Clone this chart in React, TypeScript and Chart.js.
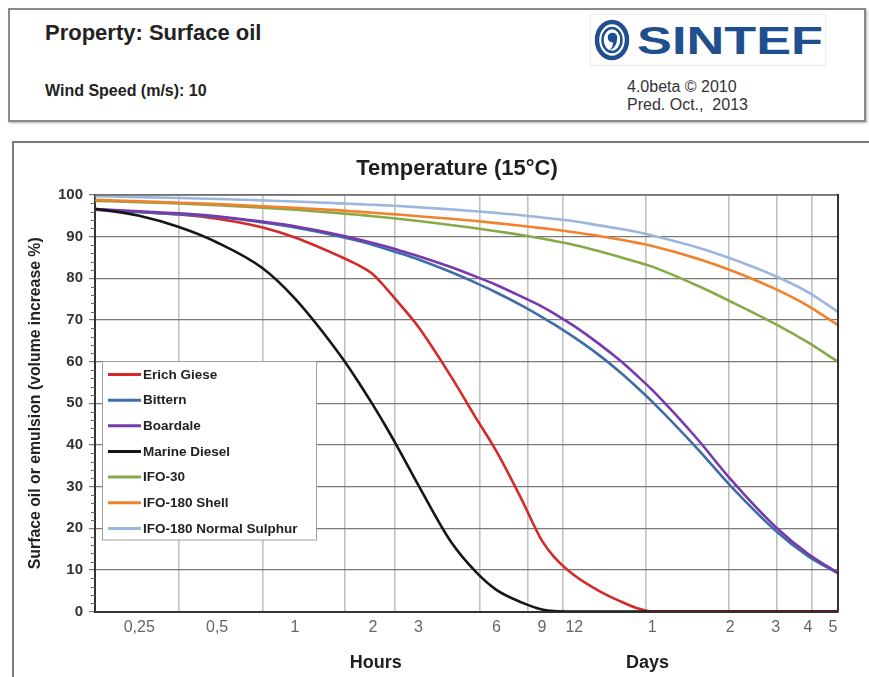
import React, { useEffect, useRef } from 'react';
import { Chart, registerables } from 'chart.js';

Chart.register(...registerables);

const FONT = '"Liberation Sans", Arial, Helvetica, sans-serif';

// x values in hours (log axis)
const HOURS = [0.169, 0.25, 0.356, 0.5, 0.75, 1, 1.5, 1.75, 2, 2.25, 2.5, 3, 4, 5, 6, 7.5, 9, 10, 12, 15, 18, 21, 24, 36, 48, 72, 96, 125];

const ERICH_GIESE = [96.5, 95.9, 95.3, 94.3, 92.2, 89.8, 85.2, 83.2, 81.0, 77.6, 74.3, 68.3, 56.5, 46.5, 38.5, 27.0, 17.0, 13.2, 8.7, 4.9, 2.5, 0.8, 0, 0, 0, 0, 0, 0];
const BITTERN = [96.5, 95.9, 95.4, 94.7, 93.4, 92.2, 90.0, 89.0, 88.0, 87.05, 86.15, 84.5, 81.5, 78.9, 76.6, 73.5, 70.7, 69.0, 65.8, 61.5, 57.5, 53.8, 50.4, 39.0, 30.3, 19.4, 13.3, 9.2];
const BOARDALE = [96.6, 96.1, 95.6, 94.9, 93.6, 92.5, 90.35, 89.4, 88.5, 87.65, 86.8, 85.3, 82.7, 80.4, 78.4, 75.6, 73.2, 71.6, 68.5, 64.2, 60.3, 56.6, 53.2, 41.3, 31.9, 20.3, 13.85, 9.3];
const MARINE_DIESEL = [96.7, 95.0, 92.3, 88.6, 82.4, 75.1, 61.4, 55.3, 49.6, 44.3, 39.3, 30.3, 16.8, 9.5, 5.2, 2.2, 0.5, 0.1, 0, 0, 0, 0, 0, 0, 0, 0, 0, 0];
const IFO_30 = [98.6, 98.3, 97.95, 97.55, 96.95, 96.45, 95.6, 95.25, 94.9, 94.6, 94.3, 93.75, 92.8, 92.0, 91.3, 90.4, 89.55, 89.0, 88.0, 86.5, 85.1, 83.9, 82.8, 78.2, 74.5, 69.0, 64.6, 60.0];
const IFO_180_SHELL = [98.85, 98.5, 98.15, 97.8, 97.3, 96.9, 96.3, 96.0, 95.75, 95.5, 95.3, 94.9, 94.3, 93.75, 93.25, 92.6, 92.05, 91.7, 91.05, 90.15, 89.3, 88.5, 87.75, 84.7, 82.0, 77.4, 73.4, 68.8];
const IFO_180_NS = [99.7, 99.5, 99.28, 99.04, 98.7, 98.45, 98.0, 97.8, 97.65, 97.5, 97.35, 97.05, 96.55, 96.1, 95.7, 95.15, 94.6, 94.3, 93.7, 92.7, 91.9, 91.1, 90.3, 87.4, 84.8, 80.5, 76.7, 72.0];

const SERIES_NAMES = ['Erich Giese', 'Bittern', 'Boardale', 'Marine Diesel', 'IFO-30', 'IFO-180 Shell', 'IFO-180 Normal Sulphur'];
const SERIES_VALUES = [ERICH_GIESE, BITTERN, BOARDALE, MARINE_DIESEL, IFO_30, IFO_180_SHELL, IFO_180_NS];
const SERIES_COLORS = ['#d42a2a', '#3f6ea6', '#7838b0', '#161616', '#86aa48', '#f0822c', '#9db7dc'];

const TICK_HOURS = [0.25, 0.5, 1, 2, 3, 6, 9, 12, 24, 48, 72, 96, 120];
const TICK_LABELS = ['0,25', '0,5', '1', '2', '3', '6', '9', '12', '1', '2', '3', '4', '5'];
const GRID_HOURS = [0.356, 0.752, 1.56, 2.43, 5.18, 7.95, 10.8, 22.7, 47.5, 72.8, 99.5];
const X_MIN = 0.1687;
const X_MAX = 125.4;

const Y_MIN = 0;
const Y_MAX = 100;
const Y_STEP = 10;
const Y_MINOR_STEP = 2;

const CHART_TITLE = 'Temperature (15°C)';
const Y_TITLE = 'Surface oil or emulsion (volume increase %)';
const X_TITLES = [
  { text: 'Hours', at: 2.05 },
  { text: 'Days', at: 23 },
];

const decorPlugin = {
  id: 'decor',
  afterDraw(chart: any) {
    const { ctx, chartArea } = chart;
    const { left, right, top, bottom } = chartArea;
    const yScale = chart.scales.y;
    const xScale = chart.scales.x;
    ctx.save();

    // plot frame
    ctx.strokeStyle = '#6e6e6e';
    ctx.lineWidth = 1.5;
    ctx.beginPath();
    ctx.moveTo(left, top);
    ctx.lineTo(right, top);
    ctx.stroke();
    ctx.strokeStyle = '#333';
    ctx.lineWidth = 2;
    ctx.beginPath();
    ctx.moveTo(right, top - 1);
    ctx.lineTo(right, bottom);
    ctx.stroke();

    // minor ticks on y
    ctx.strokeStyle = '#666';
    ctx.lineWidth = 1;
    for (let v = Y_MIN; v <= Y_MAX; v += Y_MINOR_STEP) {
      if (v % Y_STEP === 0) continue;
      const py = Math.round(yScale.getPixelForValue(v)) + 0.5;
      ctx.beginPath();
      ctx.moveTo(left - 4, py);
      ctx.lineTo(left, py);
      ctx.stroke();
    }

    // chart title
    ctx.fillStyle = '#1e1e1e';
    ctx.font = `bold 22px ${FONT}`;
    ctx.textAlign = 'center';
    ctx.textBaseline = 'alphabetic';
    ctx.fillText(CHART_TITLE, 457, 175);

    // Hours / Days
    ctx.font = `bold 18px ${FONT}`;
    X_TITLES.forEach((t) => {
      ctx.fillText(t.text, xScale.getPixelForValue(t.at), 668);
    });

    // legend box
    const lx = 102.5, ly = 361.5, lw = 214, lh = 178.5;
    ctx.fillStyle = '#fff';
    ctx.fillRect(lx, ly, lw, lh);
    ctx.strokeStyle = '#a0a0a0';
    ctx.lineWidth = 1;
    ctx.strokeRect(lx, ly, lw, lh);
    ctx.font = `bold 13.5px ${FONT}`;
    ctx.textAlign = 'left';
    ctx.textBaseline = 'middle';
    SERIES_NAMES.forEach((name, i) => {
      const cy = 374.5 + i * 25.65;
      ctx.strokeStyle = SERIES_COLORS[i];
      ctx.lineWidth = 3;
      ctx.beginPath();
      ctx.moveTo(108, cy);
      ctx.lineTo(141, cy);
      ctx.stroke();
      ctx.fillStyle = '#222';
      ctx.fillText(name, 143, cy + 0.5);
    });

    ctx.restore();
  },
};

export default function App() {
  const ref = useRef<HTMLCanvasElement>(null);

  useEffect(() => {
    if (!ref.current) return;
    Chart.defaults.font.family = FONT;
    const datasets = SERIES_NAMES.map((name, i) => ({
      label: name,
      data: HOURS.map((h, j) => ({ x: h, y: SERIES_VALUES[i][j] })),
      borderColor: SERIES_COLORS[i],
      backgroundColor: SERIES_COLORS[i],
      borderWidth: 2.6,
      pointRadius: 0,
      cubicInterpolationMode: 'monotone' as const,
      fill: false,
      order: SERIES_NAMES.length - i,
    }));
    const allTicks = [...TICK_HOURS, ...GRID_HOURS].sort((a, b) => a - b);

    const chart = new Chart(ref.current, {
      type: 'line',
      data: { datasets },
      options: {
        animation: false,
        responsive: false,
        devicePixelRatio: 1,
        layout: { padding: { left: 24, right: 31, top: 195, bottom: 0 } },
        plugins: {
          legend: { display: false },
          tooltip: { enabled: false },
          title: { display: false },
        },
        scales: {
          x: {
            type: 'logarithmic',
            min: X_MIN,
            max: X_MAX,
            afterBuildTicks: (s: any) => {
              s.ticks = allTicks.map((v) => ({ value: v }));
            },
            afterFit: (s: any) => {
              s.height = 65.5;
            },
            grid: {
              color: (c: any) => (c.tick && GRID_HOURS.includes(c.tick.value) ? '#c2c2c2' : 'rgba(0,0,0,0)'),
              lineWidth: 1.6,
              drawTicks: false,
            },
            border: { color: '#333', width: 2 },
            ticks: {
              autoSkip: false,
              maxRotation: 0,
              minRotation: 0,
              padding: 6,
              color: '#666',
              font: { family: FONT, size: 16 },
              callback: (v: any) => {
                const i = TICK_HOURS.indexOf(Number(v));
                return i >= 0 ? TICK_LABELS[i] : '';
              },
            },
          },
          y: {
            min: Y_MIN,
            max: Y_MAX,
            afterFit: (s: any) => {
              s.width = 71;
            },
            ticks: {
              stepSize: Y_STEP,
              color: '#333',
              padding: 6,
              font: { family: FONT, size: 15, weight: 'bold' },
            },
            grid: { color: '#7a7a7a', lineWidth: 1.2, tickLength: 6 },
            border: { color: '#333', width: 2 },
            title: {
              display: true,
              text: Y_TITLE,
              color: '#222',
              font: { family: FONT, size: 15.8, weight: 'bold' },
              padding: { top: 2, bottom: 0 },
            },
          },
        },
      } as any,
      plugins: [decorPlugin],
    });
    return () => chart.destroy();
  }, []);

  return (
    <div style={{ position: 'fixed', left: 0, top: 0, width: 869, height: 677, background: '#fff', overflow: 'hidden', fontFamily: FONT }}>
      <div style={{ position: 'absolute', left: 8, top: 8, width: 858, height: 114, border: '2px solid #8a8a8a', boxSizing: 'border-box', boxShadow: '1px 1px 2px #b0b0b0' }} />
      <div style={{ position: 'absolute', left: 45, top: 21, fontSize: 22, lineHeight: '24px', fontWeight: 'bold', color: '#222', whiteSpace: 'nowrap' }}>Property: Surface oil</div>
      <div style={{ position: 'absolute', left: 45, top: 82, fontSize: 16, lineHeight: '18px', fontWeight: 'bold', color: '#222', whiteSpace: 'nowrap' }}>Wind Speed (m/s): 10</div>
      <div style={{ position: 'absolute', left: 627, top: 78, fontSize: 16, lineHeight: '18px', color: '#333', whiteSpace: 'nowrap' }}>
        <div>4.0beta © 2010</div>
        <div>Pred. Oct.,&nbsp; 2013</div>
      </div>
      <div style={{ position: 'absolute', left: 590, top: 14, width: 236, height: 52, border: '1px solid #ececec', boxSizing: 'border-box', background: '#fff' }}>
        <svg width={236} height={52} style={{ position: 'absolute', left: -1, top: -1 }}>
          <ellipse cx={22} cy={26} rx={15} ry={18} fill="none" stroke="#1f4f8f" strokeWidth={4.5} />
          <ellipse cx={22} cy={26} rx={9.5} ry={12} fill="none" stroke="#1f4f8f" strokeWidth={2.5} />
          <circle cx={22.5} cy={23.5} r={4.8} fill="#1f4f8f" />
          <path d="M26.8 24 Q28 32 19.5 37 Q24 31 22.5 27.5 Z" fill="#1f4f8f" />
          <text x={47} y={40} fontFamily={FONT} fontWeight="bold" fontSize={39} fill="#1f4f8f" textLength={186} lengthAdjust="spacingAndGlyphs">SINTEF</text>
        </svg>
      </div>
      <div style={{ position: 'absolute', left: 12, top: 141, width: 880, height: 600, border: '2px solid #7a7a7a', boxSizing: 'border-box' }} />
      <canvas ref={ref} width={869} height={677} style={{ position: 'absolute', left: 0, top: 0, width: 869, height: 677, display: 'block' }} />
    </div>
  );
}
